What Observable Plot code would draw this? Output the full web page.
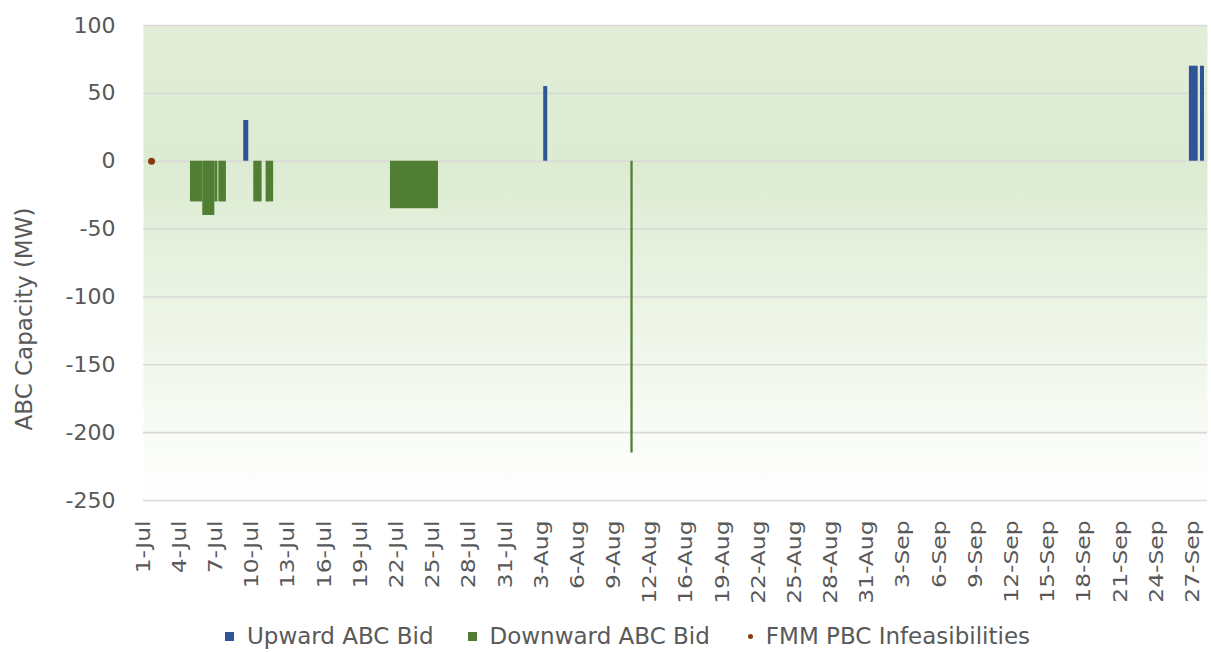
<!DOCTYPE html>
<html>
<head>
<meta charset="utf-8">
<script src="https://cdn.jsdelivr.net/npm/d3@7"></script>
<script src="https://cdn.jsdelivr.net/npm/@observablehq/plot@0.6"></script>
<style>
  html, body { margin: 0; padding: 0; background: #ffffff; }
  #chart { width: 1211px; position: relative; }
  .legend { display: flex; justify-content: center; align-items: center; height: 36px;
    font-family: "DejaVu Sans", sans-serif; font-size: 23px; color: #595959; padding-left: 44px; }
  .legend .item { display: flex; align-items: center; margin: 0 17px; white-space: nowrap; }
  .legend .sw { width: 9px; height: 9px; margin-right: 13px; }
  .legend .dot { width: 5px; height: 5px; border-radius: 50%; margin-right: 13px; margin-left: 4px; }
</style>
</head>
<body>
<div id="chart"></div>
<script>
// ---- Data ----
// X axis is a category axis (one day missing between 12-Aug and 16-Aug)
const xTickLabels = ["1-Jul","4-Jul","7-Jul","10-Jul","13-Jul","16-Jul","19-Jul","22-Jul","25-Jul","28-Jul","31-Jul",
  "3-Aug","6-Aug","9-Aug","12-Aug","16-Aug","19-Aug","22-Aug","25-Aug","28-Aug","31-Aug",
  "3-Sep","6-Sep","9-Sep","12-Sep","15-Sep","18-Sep","21-Sep","24-Sep","27-Sep"];
const missingDay = "2023-08-13";

const upStart = ["2023-07-09T07:30","2023-08-03T04:30","2023-09-26T17:30","2023-09-27T15:30"];
const upEnd   = ["2023-07-09T17:30","2023-08-03T12:30","2023-09-27T11:00","2023-09-27T23:30"];
const upValue = [30, 55, 70, 70];

const downStart = ["2023-07-04T21:30","2023-07-05T22:00","2023-07-06T22:00","2023-07-07T06:00",
  "2023-07-10T03:30","2023-07-11T04:00","2023-07-21T11:30","2023-08-10T10:00"];
const downEnd   = ["2023-07-05T22:00","2023-07-06T22:00","2023-07-07T04:00","2023-07-07T21:00",
  "2023-07-10T20:00","2023-07-11T19:00","2023-07-25T11:00","2023-08-10T14:30"];
const downValue = [-30, -40, -30, -30, -30, -30, -35, -215];

const infeasTime  = ["2023-07-01T16:00"];
const infeasValue = [0];

const yTicks = [100, 50, 0, -50, -100, -150, -200, -250];

// ---- Helpers ----
const t0 = Date.parse("2023-07-01T00:00Z");
const tMiss = Date.parse(missingDay + "T00:00Z");
function toIndex(s) {
  const t = Date.parse(s + "Z");
  let d = (t - t0) / 864e5;
  if (t >= tMiss + 864e5) d -= 1;
  return d;
}
const up = upStart.map((s, i) => ({x1: toIndex(s), x2: toIndex(upEnd[i]), v: upValue[i]}));
const down = downStart.map((s, i) => ({x1: toIndex(s), x2: toIndex(downEnd[i]), v: downValue[i]}));
const infeas = infeasTime.map((s, i) => ({x: toIndex(s), v: infeasValue[i]}));
const xTickPos = xTickLabels.map((_, i) => i * 3);

const font = '"DejaVu Sans", sans-serif';
const chart = Plot.plot({
  width: 1211,
  height: 618,
  marginLeft: 143,
  marginRight: 4,
  marginTop: 25,
  marginBottom: 118,
  style: {fontFamily: font, background: "transparent"},
  x: {type: "linear", domain: [0, 88.23]},
  y: {domain: [-250, 100]},
  marks: [
    Plot.frame({fill: "url(#plotBg)", stroke: null}),
    Plot.gridY(yTicks, {stroke: "#d9d9d9", strokeOpacity: 1, strokeWidth: 1.6}),
    Plot.rect(down, {x1: "x1", x2: "x2", y1: 0, y2: "v", fill: "#507e32"}),
    Plot.rect(up, {x1: "x1", x2: "x2", y1: 0, y2: "v", fill: "#2f5597"}),
    Plot.dot(infeas, {x: "x", y: "v", r: 3.5, fill: "#843c0c", stroke: null}),
    Plot.axisY({ticks: yTicks, tickFormat: d => String(d), tickSize: 0, tickPadding: 28,
      fontSize: 22, fill: "#595959", label: null}),
    Plot.axisX({ticks: xTickPos, tickFormat: (d, i) => xTickLabels[i], tickRotate: -90, tickSize: 0,
      tickPadding: 20, fontSize: 19.5, fill: "#595959", label: null}),
    Plot.text(["ABC Capacity (MW)"], {frameAnchor: "left", textAnchor: "middle", dx: -119, dy: 56,
      rotate: -90, fontSize: 23, fill: "#595959", fontFamily: font})
  ]
});

// stretch x tick labels along their length to match the reference proportions
chart.querySelectorAll('[aria-label="x-axis tick label"] text').forEach(t => {
  const tr = t.getAttribute("transform") || "";
  t.setAttribute("transform", tr + " scale(1.2,1)");
});

// gradient background for the plot area
const ns = "http://www.w3.org/2000/svg";
const defs = document.createElementNS(ns, "defs");
defs.innerHTML = `<linearGradient id="plotBg" x1="0" y1="0" x2="0" y2="1">
  <stop offset="0" stop-color="#e3eed9"/>
  <stop offset="0.28" stop-color="#dcebd1"/>
  <stop offset="1" stop-color="#ffffff"/>
</linearGradient>`;
chart.insertBefore(defs, chart.firstChild);
document.getElementById("chart").appendChild(chart);

// legend
const legend = document.createElement("div");
legend.className = "legend";
legend.innerHTML = `
  <div class="item"><span class="sw" style="background:#2f5597"></span>Upward ABC Bid</div>
  <div class="item"><span class="sw" style="background:#507e32"></span>Downward ABC Bid</div>
  <div class="item"><span class="dot" style="background:#843c0c"></span>FMM PBC Infeasibilities</div>`;
document.getElementById("chart").appendChild(legend);
</script>
</body>
</html>
